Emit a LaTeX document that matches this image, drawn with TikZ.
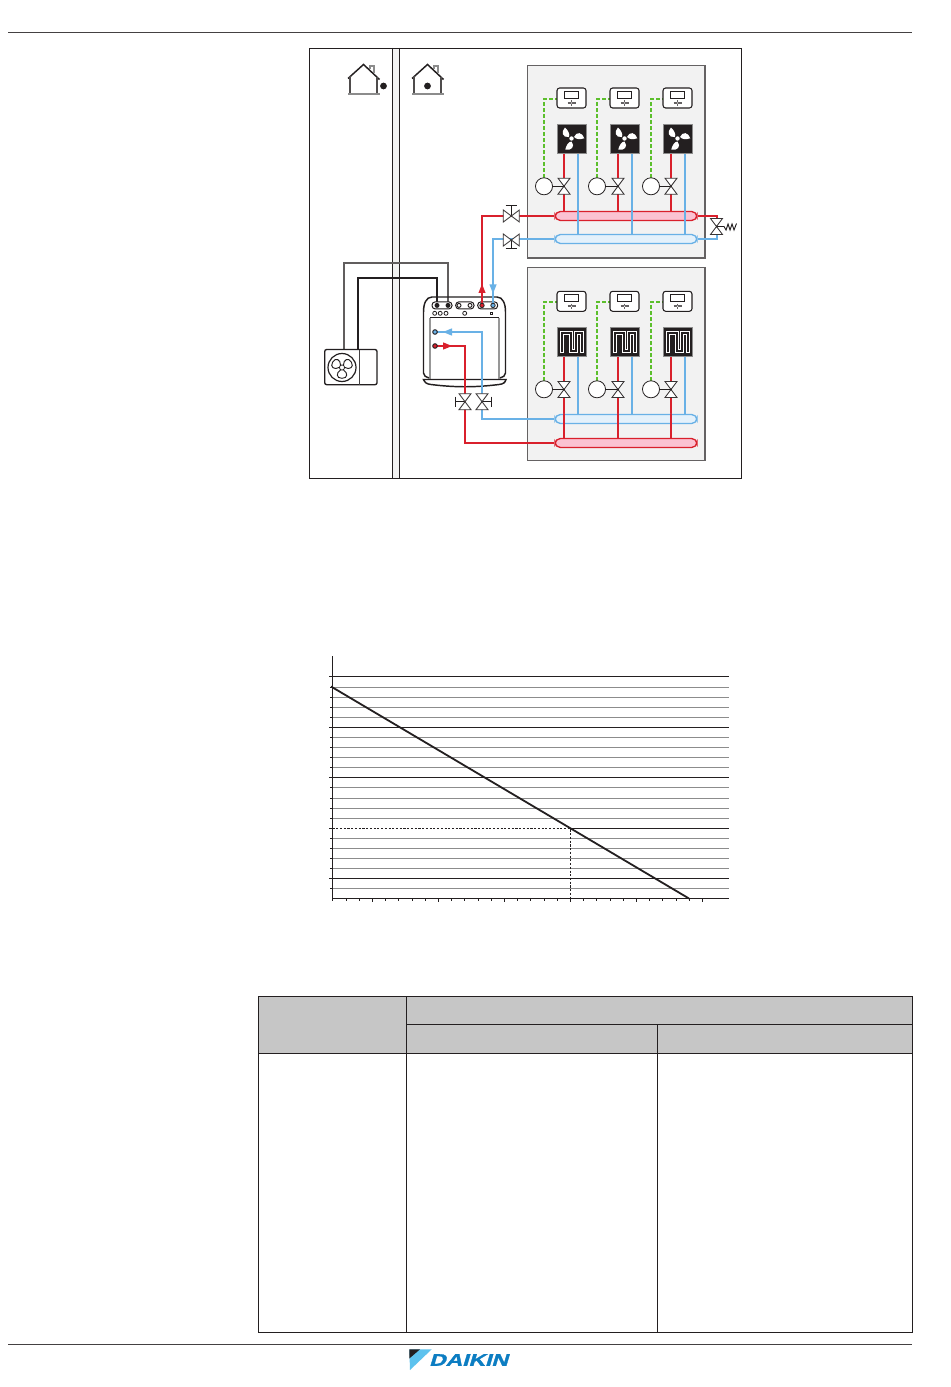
\documentclass[tikz,border=0pt]{standalone}
\usepackage{fontspec}
\setmainfont{Liberation Sans}
\newfontfamily\logofont[BoldFeatures={FakeBold=1.5}]{Liberation Sans}
\usetikzlibrary{calc}
\definecolor{hotred}{HTML}{D9202C}
\definecolor{coolblue}{HTML}{69B1E6}
\definecolor{hotfill}{HTML}{FBC2D2}
\definecolor{coolfill}{HTML}{E4F1FB}
\definecolor{ctrlgreen}{HTML}{5CBF2C}
\definecolor{panelgrey}{HTML}{F2F2F2}
\definecolor{inkblack}{HTML}{231F20}
\definecolor{gridgrey}{HTML}{8C8C8C}
\definecolor{headgrey}{HTML}{C6C6C6}
\definecolor{logoblue}{HTML}{0C7DC2}
\definecolor{logolight}{HTML}{5DC2EE}
\tikzset{
  thinline/.style={inkblack,line width=0.7pt},
  hotpipe/.style={hotred,line width=1.5pt},
  coolpipe/.style={coolblue,line width=1.5pt},
  ctrlline/.style={ctrlgreen,line width=1.5pt,dash pattern=on 3pt off 1.5pt},
  panelbox/.style={fill=panelgrey,draw=inkblack!70,line width=1pt},
  valvebody/.style={draw=inkblack!90,fill=white,line width=0.65pt},
  sensorball/.style={circle,draw=inkblack,fill=white,line width=0.6pt,minimum size=12.8pt,inner sep=0},
  gridminor/.style={gridgrey,line width=0.75pt},
  gridmajor/.style={inkblack,line width=0.75pt},
  unitline/.style={inkblack,line width=1.1pt},
  pillbox/.style={inkblack,line width=0.75pt,rounded corners=2.5pt,fill=white},
  tablerule/.style={inkblack,line width=0.75pt},
  hothead/.style={draw=hotred,fill=hotfill,line width=1pt,rounded corners=4pt,minimum width=106.5pt,minimum height=6.75pt,inner sep=0},
  coolhead/.style={draw=coolblue,fill=coolfill,line width=1pt,rounded corners=4pt,minimum width=106.5pt,minimum height=6.75pt,inner sep=0},
}
\newcommand{\vvalve}[2]{% bow-tie, pipe runs vertically
  \draw[valvebody] (#1-6,#2-8) -- (#1+6,#2-8) -- (#1-6,#2+8) -- (#1+6,#2+8) -- cycle;
}
\newcommand{\hvalve}[2]{% bow-tie, pipe runs horizontally
  \draw[valvebody] (#1-8,#2-6) -- (#1-8,#2+6) -- (#1+8,#2-6) -- (#1+8,#2+6) -- cycle;
}
\newcommand{\controller}[2]{% left x, top y
  \draw[inkblack,fill=white,line width=0.8pt,rounded corners=2pt] (#1,#2) rectangle (#1+29,#2+20);
  \draw[inkblack,line width=0.6pt] (#1+7.5,#2+3.6) rectangle (#1+21,#2+10.4);
  \draw[inkblack!70,line width=1.3pt] (#1+10.5,#2+15) -- (#1+18.5,#2+15);
  \draw[inkblack!70,line width=1.3pt] (#1+14.5,#2+12.3) -- (#1+14.5,#2+17.8);
  \fill[white] (#1+14.5,#2+15) circle (0.7);
}
\newcommand{\fanblock}[2]{% left x, top y
  \draw[gridgrey,fill=inkblack,line width=0.5pt] (#1,#2) rectangle (#1+29,#2+29);
  \begin{scope}[shift={(#1+14.5,#2+14.5)}]
    \fill[white] (0,0) circle (2.2);
    \foreach \a in {0,120,240}{
      \begin{scope}[rotate=\a]
        \fill[white] (2.6,-1.6) .. controls (5,-7.5) and (11,-6) .. (12.8,-0.2) .. controls (9,1.2) and (4,1) .. (2.6,-1.6) -- cycle;
      \end{scope}
    }
  \end{scope}
}
\newcommand{\coilblock}[2]{% left x, top y
  \draw[gridgrey,fill=inkblack,line width=0.5pt] (#1,#2) rectangle (#1+29,#2+29.4);
  \draw[white,line width=2.9pt,miter limit=10] (#1+5.2,#2+26) -- (#1+5.2,#2+5.7) -- (#1+13.6,#2+5.7) -- (#1+13.6,#2+24) -- (#1+19,#2+24) -- (#1+19,#2+5.7) -- (#1+24.8,#2+5.7) -- (#1+24.8,#2+26);
  \draw[inkblack,line width=1.5pt,miter limit=10] (#1+5.2,#2+25) -- (#1+5.2,#2+5.7) -- (#1+13.6,#2+5.7) -- (#1+13.6,#2+24) -- (#1+19,#2+24) -- (#1+19,#2+5.7) -- (#1+24.8,#2+5.7) -- (#1+24.8,#2+25);
}
\newcommand{\house}[3]{% apex x, apex y, dot x
  \draw[inkblack,line width=1.1pt] (#1-15.5,#2+14) -- (#1,#2) -- (#1+16,#2+15);
  \draw[gridgrey,line width=1pt] (#1+6.5,#2+5) -- (#1+6.5,#2+1.5) -- (#1+10.5,#2+1.5) -- (#1+10.5,#2+9);
  \draw[inkblack!80,line width=1pt] (#1-13.5,#2+12) -- (#1-13.5,#2+29.5) (#1+13.5,#2+13) -- (#1+13.5,#2+29.5);
  \draw[gridgrey,line width=1.1pt] (#1-15.5,#2+29.5) -- (#1+16,#2+29.5);
  \fill[inkblack] (#3,#2+21.5) circle (3.4);
}
\begin{document}
\begin{tikzpicture}[x=0.75pt,y=-0.75pt]
\useasboundingbox (0,0) rectangle (950,1387);
\fill[white] (0,0) rectangle (950,1387);
% page rules
\coordinate (headL) at (8,32.5); \coordinate (headR) at (912,32.5);
\coordinate (footL) at (8,1344.5); \coordinate (footR) at (912,1344.5);
\draw[inkblack!85,line width=0.7pt] (headL) -- (headR);
\draw[inkblack!85,line width=0.7pt] (footL) -- (footR);
% frame and wall
\fill[panelgrey] (393,48) rectangle (399,478);
\draw[inkblack,line width=0.75pt] (392.5,48) -- (392.5,478) (399.5,48) -- (399.5,478);
\draw[inkblack,line width=0.75pt] (309.5,48.5) rectangle (741.5,478.5);
\house{363.5}{64.5}{383.5}
\house{427.5}{64.5}{427.5}
% panels
\draw[panelbox] (527.5,65.5) rectangle (705,258);
\draw[panelbox] (527.5,267.5) rectangle (705,460.5);
% Upper panel
\foreach \lx/\rx/\bx/\sx in {557/564/578/544,610/618/632/597,663/671/685/651}{
  \draw[ctrlline] (\sx,178) -- (\sx,99) -- (\lx,99);
  \controller{\lx}{88}
  \draw[hotpipe] (\rx,153) -- (\rx,212);
  \draw[coolpipe] (\bx,153) -- (\bx,235);
  \fanblock{\lx}{124}
  \draw[thinline] (\sx,186) -- (\rx,186);
  \vvalve{\rx}{186.2}
  \node[sensorball] at (\sx,186.3) {};
  \fill[inkblack] (\rx,186.2) circle (0.8);
  % Lower panel
  \draw[ctrlline] (\sx,381) -- (\sx,302) -- (\lx,302);
  \controller{\lx}{291.3}
  \draw[hotpipe] (\rx,357) -- (\rx,439);
  \draw[coolpipe] (\bx,357) -- (\bx,415);
  \coilblock{\lx}{327.3}
  \draw[thinline] (\sx,389.3) -- (\rx,389.3);
  \vvalve{\rx}{389.5}
  \node[sensorball] at (\sx,389.3) {};
  \fill[inkblack] (\rx,389.5) circle (0.8);
}
% headers
\node[hothead] (hotTop) at (626,216) {};
\node[coolhead] (coolTop) at (626,239) {};
\node[coolhead] (coolLow) at (626,419) {};
\node[hothead] (hotLow) at (626,443) {};
% re-draw the lines that pass through the headers
\foreach \bx in {578,632,685}{\draw[coolpipe] (\bx,211) -- (\bx,235);}
\foreach \rx in {564,618,671}{\draw[hotpipe] (\rx,414) -- (\rx,439);}
% named junction coordinates
\coordinate (portHot) at (482,305);
\coordinate (portCool) at (493,305);
\coordinate (dotCool) at (435,332);
\coordinate (dotHot) at (435,346);
% supply pipes top
\draw[hotpipe] (hotTop.west) -- (portHot |- hotTop.west) -- (portHot);
\draw[coolpipe] (coolTop.west) -- (portCool |- coolTop.west) -- (portCool);
\draw[hotpipe] (hotTop.east) -- (717,216) -- (717,220);
\draw[coolpipe] (coolTop.east) -- (717,239) -- (717,234);
% left valves upper
\draw[thinline] (511.3,205.5) -- (511.3,216) (505.5,205.5) -- (517,205.5);
\hvalve{511.3}{216}
\draw[thinline] (511.3,240) -- (511.3,248.5) (505.5,248.5) -- (517,248.5);
\hvalve{511.3}{240}
% bypass valve & spring
\vvalve{716.5}{226.5}
\draw[thinline] (716.5,226.5) -- (724,226.5) -- (726,230) -- (728,224) -- (730,230) -- (732,224) -- (734,230) -- (736.5,223.5);
% cables
\draw[inkblack!72,line width=1.4pt] (344,349.5) -- (344,263) -- (448,263) -- (448,305);
\draw[inkblack,line width=1.5pt] (358,349.5) -- (358,278) -- (437,278) -- (437,305);
% indoor unit
\draw[gridgrey!90,line width=1.5pt] (430,318) -- (430,380) (499,318) -- (499,380);
\draw[unitline] (432,297) -- (497,297) .. controls (503,297) and (505.5,304) .. (505.5,312) -- (505.5,373) .. controls (505.5,376) and (503,377) .. (500,378);
\draw[unitline] (432,297) .. controls (426,297) and (423.5,304) .. (423.5,312) -- (423.5,373) .. controls (423.5,376) and (426,377) .. (429,378);
\draw[unitline] (430,317.7) -- (499,317.7);
\draw[unitline,fill=white] (423.5,379.5) -- (506,379.5) .. controls (505,383) and (503,384) .. (499,384.5) .. controls (475,387.5) and (455,387.5) .. (431,384.5) .. controls (427,384) and (425,383) .. (423.5,379.5) -- cycle;
\foreach \xa/\xb in {432/452,455.7/474,477.7/497.7}{
  \draw[pillbox] (\xa,301.8) rectangle (\xb,309);
}
\foreach \x in {459,470}{\draw[inkblack,line width=0.7pt,fill=white] (\x,305.4) circle (2);}
\foreach \x in {434.7,440.2,446,464.7}{\draw[inkblack,line width=0.6pt,fill=white] (\x,313.3) circle (2);}
\draw[inkblack,line width=0.6pt,fill=white] (490.6,312.2) rectangle (492.6,314.4);
\foreach \x in {437,448}{\fill[inkblack] (\x,305.4) circle (2.5);}
\draw[hotpipe] (portHot) -- ++(0,-14);
\draw[coolpipe] (portCool) -- ++(0,-14);
\draw[inkblack,line width=0.6pt,fill=hotred] (482,305.4) circle (2.2);
\draw[inkblack,line width=0.6pt,fill=coolblue] (493,305.4) circle (2.2);
\fill[hotred] (482,284) -- (485.6,293) -- (478.4,293) -- cycle;
\fill[coolblue] (493,293.5) -- (496.6,284.5) -- (489.4,284.5) -- cycle;
% lower supply pipes
\draw[hotpipe] (dotHot) -- (465,346) -- (465,443) -- (hotLow.west);
\draw[coolpipe] (dotCool) -- (482,332) -- (482,419) -- (coolLow.west);
\fill[hotred] (452,346) -- (443,342.3) -- (443,349.7) -- cycle;
\fill[coolblue] (443,332) -- (452,328.3) -- (452,335.7) -- cycle;
\draw[inkblack,line width=0.7pt,fill=hotred] (435,346) circle (2.3);
\draw[inkblack,line width=0.7pt,fill=coolblue] (435,332) circle (2.3);
\draw[thinline] (465,401.7) -- (455.5,401.7) (455.5,396.5) -- (455.5,407);
\draw[thinline] (482,401.7) -- (491.5,401.7) (491.5,396.5) -- (491.5,407);
\vvalve{465}{401.7}
\vvalve{482}{401.7}
% outdoor unit
\draw[inkblack,line width=1pt,rounded corners=1.5pt,fill=white] (324.7,349.5) rectangle (377,384.7);
\draw[inkblack!85,line width=0.75pt] (359.5,349.5) -- (359.5,384.7);
\begin{scope}[shift={(342,367.5)}]
  \draw[inkblack,line width=0.9pt] (0,0) circle (14);
  \draw[inkblack,line width=0.6pt] (0,0) circle (2.6);
  \foreach \a in {-90,30,150}{
    \begin{scope}[rotate=\a]
      \draw[inkblack,line width=0.7pt] (2.6,-1.5) .. controls (5,-6) and (11,-6) .. (10.8,0) .. controls (11,6) and (5,6) .. (2.6,1.5);
    \end{scope}
  }
\end{scope}
% chart
\foreach \y in {687.5,697.5,707.5,717.5,737.5,747.5,757.5,767.5,787.5,798.5,808.5,818.5,838.5,848.5,858.5,868.5,888.5}{
  \draw[gridminor] (332.5,\y) -- (729,\y);
  \draw[inkblack,line width=0.75pt] (330,\y) -- (332.5,\y);
}
\foreach \y in {676.5,727.5,777.5,878.5}{
  \draw[gridmajor] (329,\y) -- (729,\y);
}
\draw[gridmajor] (570.5,828.5) -- (729,828.5);
\draw[inkblack,line width=0.75pt] (329,828.5) -- (332.5,828.5);
\draw[inkblack,line width=0.75pt,dash pattern=on 1.6pt off 1.2pt] (332.5,828.5) -- (570.5,828.5) -- (570.5,898.5);
\draw[gridmajor] (332.5,656) -- (332.5,901);
\draw[gridmajor] (332.5,898.5) -- (729,898.5);
\foreach \k in {0,...,27}{
  \pgfmathsetmacro{\tx}{332.7+13.2*\k}
  \draw[inkblack,line width=0.6pt] (\tx,898.5) -- (\tx,900.5);
}
\foreach \k in {3,8,13,18,23,28}{
  \pgfmathsetmacro{\tx}{332.7+13.2*\k}
  \draw[inkblack,line width=0.7pt] (\tx,898.5) -- (\tx,902);
}
\draw[inkblack,line width=1.35pt] (331,686.5) -- (689,898.5);
% table
\fill[headgrey] (258.5,996.5) rectangle (912.5,1053.5);
\draw[tablerule] (258.5,996.5) rectangle (912.5,1332.5);
\draw[tablerule] (406.5,996.5) -- (406.5,1332.5);
\draw[tablerule] (657.5,1024.5) -- (657.5,1332.5);
\draw[tablerule] (406.5,1024.5) -- (912.5,1024.5);
\draw[tablerule] (258.5,1053.5) -- (912.5,1053.5);
% logo
\fill[logolight] (409.3,1349.3) -- (431.7,1349.3) -- (410,1370) -- cycle;
\fill[inkblack] (409.3,1349.3) -- (420,1349.3) -- (409.3,1358.5) -- cycle;
\node[logoblue,font=\fontsize{12.6pt}{13pt}\logofont\bfseries,inner sep=0,anchor=west,transform shape,xscale=1.36,xslant=.22] (logoword) at (430.5,1360) {DAIKIN};
\end{tikzpicture}
\end{document}
